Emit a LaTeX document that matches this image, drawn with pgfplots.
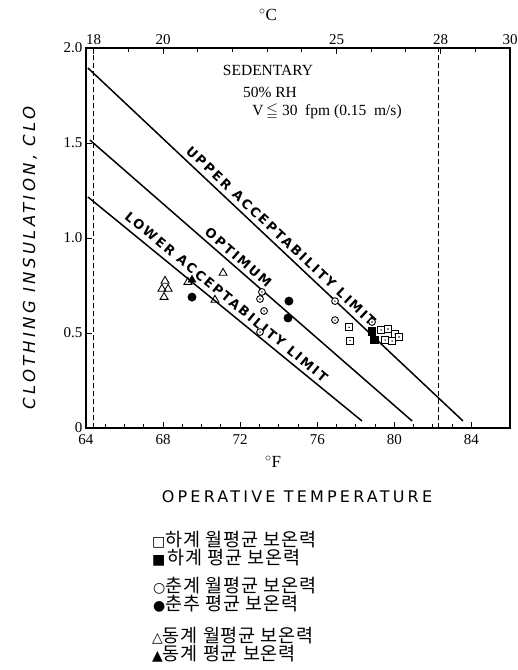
\documentclass[border=0pt]{standalone}
\usepackage{amssymb}
\usepackage{pgfplots}
\pgfplotsset{compat=1.18}
\usepackage{fontspec}
\setmainfont{Liberation Serif}
\newfontfamily\dejavu{DejaVu Sans}
\newfontfamily\lettering[LetterSpace=20]{DejaVu Sans}
\newfontfamily\ylabfont[LetterSpace=20]{DejaVu Sans}
\newfontfamily\linelab[LetterSpace=16]{DejaVu Sans}
\newfontfamily\kr[LetterSpace=5]{Noto Sans CJK KR}

\pgfdeclareplotmark{sqdot}{%
  \pgfpathrectangle{\pgfpoint{-\pgfplotmarksize}{-\pgfplotmarksize}}{\pgfpoint{2\pgfplotmarksize}{2\pgfplotmarksize}}%
  \pgfusepathqfillstroke
  \pgfscope
  \pgfsetfillcolor{black}%
  \pgfpathcircle{\pgfpointorigin}{0.8pt}\pgfusepathqfill
  \endpgfscope}
\pgfdeclareplotmark{odot}{%
  \pgfpathcircle{\pgfpointorigin}{\pgfplotmarksize}%
  \pgfusepathqfillstroke
  \pgfscope
  \pgfsetfillcolor{black}%
  \pgfpathcircle{\pgfpointorigin}{0.8pt}\pgfusepathqfill
  \endpgfscope}

\begin{document}
\begin{tikzpicture}
\path[use as bounding box] (0pt,0pt) rectangle (518pt,-670pt);

\begin{axis}[
  at={(86pt,-428pt)}, anchor=south west,
  scale only axis, width=424pt, height=380pt,
  xmin=64, xmax=86, ymin=0, ymax=2,
  xtick={64,68,...,84}, minor x tick num=3,
  ytick={0,0.5,1,1.5,2}, yticklabels={0,0.5,1.0,1.5,2.0},
  xtick pos=left, ytick pos=left,
  tick align=inside, major tick length=6pt, minor tick length=4pt,
  axis line style={line width=1.3pt},
  every tick/.style={line width=0.9pt, black},
  /pgf/number format/assume math mode=true,
  tick label style={font=\fontsize{15}{15}\selectfont},
  xticklabel style={yshift=-3pt},
  clip=false,
]
% comfort lines
\addplot[black, line width=1.5pt] coordinates {(64.1,1.895) (83.56,0.037)};
\addplot[black, line width=1.5pt] coordinates {(64.2,1.516) (80.92,0.037)};
\addplot[black, line width=1.5pt] coordinates {(64.1,1.216) (78.32,0.037)};
% 18 C and 28 C
\addplot[black, line width=1pt, dash pattern=on 5pt off 3pt] coordinates {(64.4,0) (64.4,2)};
\addplot[black, line width=1pt, dash pattern=on 5pt off 3pt] coordinates {(82.3,0) (82.3,2)};

% line labels
\node[rotate=-43.3, font=\linelab\bfseries\fontsize{13}{13}\selectfont] at (axis cs:74.12,1.01) {UPPER ACCEPTABILITY LIMIT};
\node[rotate=-41.1, font=\linelab\bfseries\fontsize{13}{13}\selectfont] at (axis cs:71.91,0.897) {OPTIMUM};
\node[rotate=-39.6, font=\linelab\bfseries\fontsize{13}{13}\selectfont] at (axis cs:71.29,0.69) {LOWER ACCEPTABILITY LIMIT};

% summer monthly average
\addplot[only marks, mark=sqdot, mark size=3.4pt, mark options={fill=white, line width=0.9pt}] coordinates {
 (77.65,0.53) (77.7,0.46) (79.31,0.516) (79.67,0.521) (80.04,0.495)
 (79.52,0.463) (79.88,0.458) (80.24,0.479)};
% summer average
\addplot[only marks, mark=square*, mark size=3.6pt, mark options={fill=black}] coordinates {
 (78.84,0.51) (78.95,0.463)};
% spring monthly average
\addplot[only marks, mark=odot, mark size=3.4pt, mark options={fill=white, line width=0.9pt}] coordinates {
 (73.13,0.716) (73.03,0.679) (73.24,0.616) (73.03,0.505) (76.92,0.668) (76.92,0.568) (78.84,0.558)};
% spring/fall average
\addplot[only marks, mark=*, mark size=4.2pt, mark options={fill=black}] coordinates {
 (74.53,0.668) (74.48,0.579) (69.5,0.689)};
% winter monthly average
\addplot[only marks, mark=triangle, mark size=4.6pt, mark options={line width=0.9pt}] coordinates {
 (68.1,0.774) (67.94,0.732) (68.26,0.732) (68.05,0.689) (69.29,0.768) (71.11,0.816) (70.69,0.674)};
% winter average
\addplot[only marks, mark=triangle*, mark size=4.6pt, mark options={fill=black}] coordinates {
 (69.5,0.78)};
\end{axis}

\begin{axis}[
  at={(86pt,-428pt)}, anchor=south west,
  scale only axis, width=424pt, height=380pt,
  xmin=17.7778, xmax=30, ymin=0, ymax=2,
  axis x line*=top, axis y line=none,
  xtick={18,20,25,28,30}, minor xtick={19,21,22,23,24,26,27,29},
  tick align=inside, major tick length=6pt, minor tick length=4pt,
  axis line style={line width=1.3pt},
  every tick/.style={line width=0.9pt, black},
  /pgf/number format/assume math mode=true,
  tick label style={font=\fontsize{15}{15}\selectfont},
]
\end{axis}

% texts
\node[font=\fontsize{17}{17}\selectfont] at (268pt,-15pt) {$^\circ$C};
\node[font=\fontsize{17}{17}\selectfont] at (273pt,-462pt) {$^\circ$F};
\node[font=\fontsize{15.5}{15.5}\selectfont] at (268pt,-70.5pt) {SEDENTARY};
\node[font=\fontsize{15.5}{15.5}\selectfont] at (270pt,-92pt) {50\% RH};
\node[font=\fontsize{15.5}{15.5}\selectfont] at (327pt,-112pt) {V\,$\leqq$ 30 \ fpm (0.15 \ m/s)};
\node[font=\lettering\fontsize{16}{16}\selectfont] at (297pt,-497pt) {OPERATIVE TEMPERATURE};
\node[rotate=90, font=\ylabfont\itshape\fontsize{16.5}{16.5}\selectfont] at (30pt,-258pt) {CLOTHING INSULATION, CLO};

% legend
\node[anchor=west, inner sep=0pt] at (152pt,-540pt) {{\dejavu\fontsize{14}{14}\selectfont □}{\kr\fontsize{18.5}{18.5}\selectfont 하계 월평균 보온력}};
\node[anchor=west, inner sep=0pt] at (152pt,-558pt) {{\dejavu\fontsize{14}{14}\selectfont ■} {\kr\fontsize{18.5}{18.5}\selectfont 하계 평균 보온력}};
\node[anchor=west, inner sep=0pt] at (153pt,-586pt) {{\dejavu\fontsize{14}{14}\selectfont ○}{\kr\fontsize{18.5}{18.5}\selectfont 춘계 월평균 보온력}};
\node[anchor=west, inner sep=0pt] at (153pt,-604pt) {{\dejavu\fontsize{14}{14}\selectfont ●}{\kr\fontsize{18.5}{18.5}\selectfont 춘추 평균 보온력}};
\node[anchor=west, inner sep=0pt] at (152pt,-636pt) {{\dejavu\fontsize{14}{14}\selectfont △}{\kr\fontsize{18.5}{18.5}\selectfont 동계 월평균 보온력}};
\node[anchor=west, inner sep=0pt] at (152pt,-654pt) {{\dejavu\fontsize{14}{14}\selectfont ▲}{\kr\fontsize{18.5}{18.5}\selectfont 동계 평균 보온력}};
\end{tikzpicture}
\end{document}
